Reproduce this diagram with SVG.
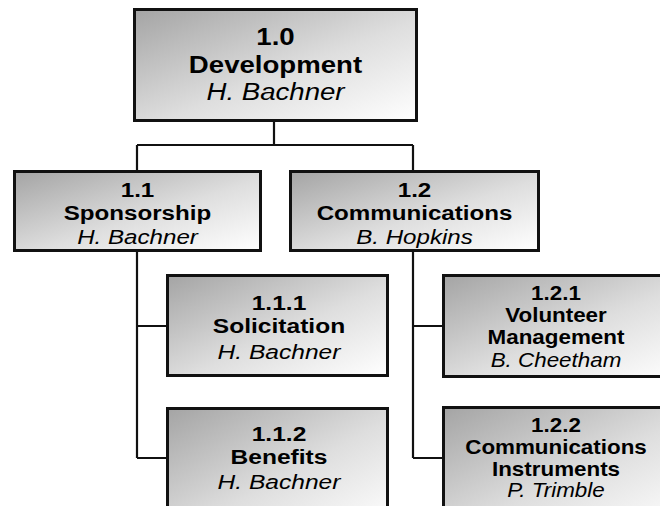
<svg xmlns="http://www.w3.org/2000/svg" width="660" height="506" viewBox="0 0 660 506">
  <defs>
    <linearGradient id="boxFill" x1="0" y1="0" x2="1" y2="1">
      <stop offset="0" stop-color="#a4a4a4"/>
      <stop offset="0.55" stop-color="#dedede"/>
      <stop offset="1" stop-color="#ffffff"/>
    </linearGradient>
  </defs>
  <style>
    .box { fill: url(#boxFill); stroke: #111; stroke-width: 3; }
    .link { fill: none; stroke: #111; stroke-width: 2.2; }
    text { font-family: "Liberation Sans", Arial, sans-serif; fill: #000; text-anchor: middle; }
    .b { font-weight: bold; }
    .i { font-style: italic; }
  </style>
  <rect width="660" height="506" fill="#fff"/>

  <!-- connectors -->
  <g id="connectors">
    <path class="link" d="M274,122 V145 M137,145 H413 M137,145 V170 M413,145 V170"/>
    <path class="link" d="M137,252 V458 M137,326 H166 M137,458 H166"/>
    <path class="link" d="M413,252 V458 M413,326 H442 M413,458 H442"/>
  </g>

  <!-- 1.0 Development -->
  <g id="n1-0">
    <rect class="box" x="134.5" y="9.5" width="282" height="111"/>
    <g transform="translate(275.5 0) scale(1.15 1)" font-size="24">
      <text class="b" x="0" y="45">1.0</text>
      <text class="b" x="0" y="73">Development</text>
      <text class="i" x="0" y="100">H. Bachner</text>
    </g>
  </g>

  <!-- 1.1 Sponsorship -->
  <g id="n1-1">
    <rect class="box" x="14.5" y="171.5" width="246" height="79"/>
    <g transform="translate(137.5 0) scale(1.15 1)" font-size="21">
      <text class="b" x="0" y="197">1.1</text>
      <text class="b" x="0" y="220">Sponsorship</text>
      <text class="i" x="0" y="244">H. Bachner</text>
    </g>
  </g>

  <!-- 1.2 Communications -->
  <g id="n1-2">
    <rect class="box" x="290.5" y="171.5" width="248" height="79"/>
    <g transform="translate(414.5 0) scale(1.15 1)" font-size="21">
      <text class="b" x="0" y="197">1.2</text>
      <text class="b" x="0" y="220">Communications</text>
      <text class="i" x="0" y="244">B. Hopkins</text>
    </g>
  </g>

  <!-- 1.1.1 Solicitation -->
  <g id="n1-1-1">
    <rect class="box" x="167.5" y="275.5" width="220" height="100"/>
    <g transform="translate(279 0) scale(1.17 1)" font-size="21">
      <text class="b" x="0" y="310">1.1.1</text>
      <text class="b" x="0" y="333">Solicitation</text>
      <text class="i" x="0" y="359">H. Bachner</text>
    </g>
  </g>

  <!-- 1.1.2 Benefits -->
  <g id="n1-1-2">
    <rect class="box" x="167.5" y="408.5" width="220" height="120"/>
    <g transform="translate(279 0) scale(1.17 1)" font-size="21">
      <text class="b" x="0" y="441">1.1.2</text>
      <text class="b" x="0" y="464">Benefits</text>
      <text class="i" x="0" y="489">H. Bachner</text>
    </g>
  </g>

  <!-- 1.2.1 Volunteer Management -->
  <g id="n1-2-1">
    <rect class="box" x="443.5" y="275.5" width="240" height="101"/>
    <g transform="translate(556 0) scale(1.12 1)" font-size="20">
      <text class="b" x="0" y="300">1.2.1</text>
      <text class="b" x="0" y="322">Volunteer</text>
      <text class="b" x="0" y="344">Management</text>
      <text class="i" x="0" y="367">B. Cheetham</text>
    </g>
  </g>

  <!-- 1.2.2 Communications Instruments -->
  <g id="n1-2-2">
    <rect class="box" x="443.5" y="407.5" width="240" height="120"/>
    <g transform="translate(556 0) scale(1.12 1)" font-size="20">
      <text class="b" x="0" y="432">1.2.2</text>
      <text class="b" x="0" y="454">Communications</text>
      <text class="b" x="0" y="476">Instruments</text>
      <text class="i" x="0" y="497">P. Trimble</text>
    </g>
  </g>
</svg>
